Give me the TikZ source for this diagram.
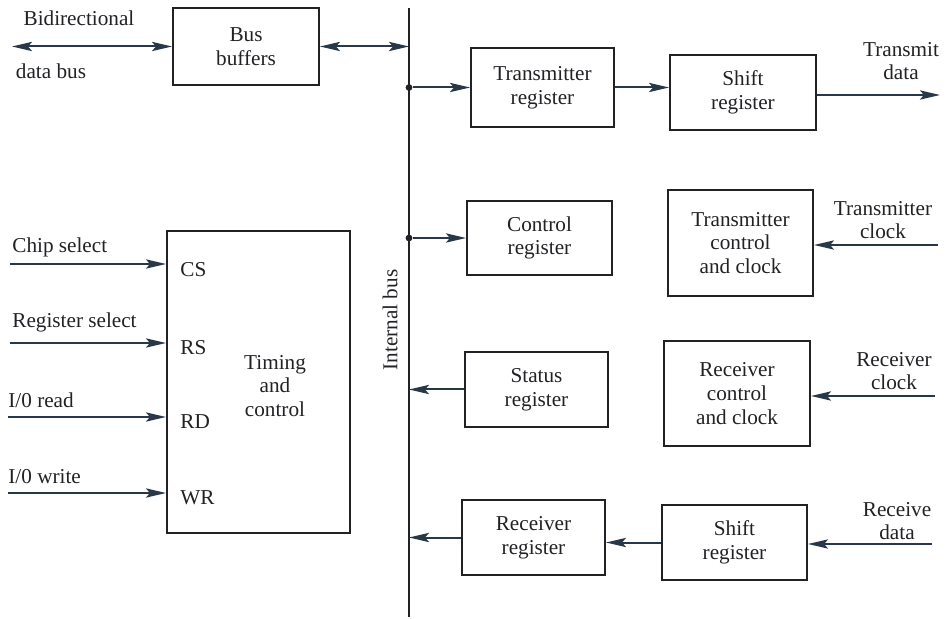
\documentclass[tikz,border=0pt]{standalone}
\usepackage{fontspec}
\setmainfont{Liberation Serif}
\usetikzlibrary{arrows.meta}
\definecolor{ink}{RGB}{34,34,38}
\definecolor{arrowink}{RGB}{40,56,72}
\tikzset{
  box/.style={draw=ink, line width=1pt, rectangle, align=center, inner sep=0pt,
    font=\fontsize{10.6}{11.8}\selectfont, text=ink},
  lbl/.style={align=center, inner sep=0pt, font=\fontsize{10.6}{11.8}\selectfont, text=ink},
  arr/.style={draw=arrowink, line width=1pt, -{Stealth[length=10pt,width=4.6pt,inset=2pt]}},
  darr/.style={draw=arrowink, line width=1pt, {Stealth[length=10pt,width=4.6pt,inset=2pt]}-{Stealth[length=10pt,width=4.6pt,inset=2pt]}},
  busline/.style={draw=ink, line width=1pt},
  jdot/.style={fill=ink, circle, inner sep=0pt, minimum size=3.4pt}
}
\begin{document}
\begin{tikzpicture}[x=0.5pt, y=-0.5pt]
\useasboundingbox[fill=white] (0,0) rectangle (952,619);

% boxes
\node[box, minimum width=73pt, minimum height=38.5pt] (bb) at (246,46.5) {Bus\\buffers};
\node[box, minimum width=71.5pt, minimum height=39.5pt] (tr) at (542.5,87.5) {Transmitter\\register};
\node[box, minimum width=73pt, minimum height=37.5pt] (sr1) at (743,92.5) {Shift\\register};
\node[box, minimum width=72.5pt, minimum height=37pt] (cr) at (539.5,238) {Control\\register};
\node[box, minimum width=72.5pt, minimum height=53pt] (tcc) at (740.5,243) {Transmitter\\control\\and clock};
\node[box, minimum width=71.5pt, minimum height=37.5pt] (ss) at (536.5,389.5) {Status\\register};
\node[box, minimum width=73pt, minimum height=52.5pt] (rcc) at (737,393.5) {Receiver\\control\\and clock};
\node[box, minimum width=71.5pt, minimum height=37.5pt] (rr) at (533.5,537.5) {Receiver\\register};
\node[box, minimum width=72.5pt, minimum height=37.5pt] (sr2) at (734.5,542.5) {Shift\\register};
\node[box, minimum width=91.5pt, minimum height=151pt] (tc) at (258.5,382) {};

% text inside timing box
\node[lbl] (tctext) at (275,386) {Timing\\and\\control};
\node[lbl, anchor=west] (pcs) at (180,270) {CS};
\node[lbl, anchor=west] (prs) at (180,348) {RS};
\node[lbl, anchor=west] (prd) at (180,422) {RD};
\node[lbl, anchor=west] (pwr) at (180,498) {WR};

% internal bus
\coordinate (bustop) at (409,8);
\coordinate (busbot) at (409,617);
\draw[busline] (bustop) -- (busbot);
\node[lbl, rotate=90] (buslbl) at (390,320) {Internal bus};
\node[jdot] (j1) at (bustop |- tr.west) {};
\node[jdot] (j2) at (bustop |- cr.west) {};

% bus buffers connections
\coordinate (bidl) at (12,46.5);
\draw[darr] (bidl) -- (bb.west);
\node[lbl] (bidtxt) at (79,18) {Bidirectional};
\node[lbl] (dbtxt) at (51,71) {data bus};
\draw[darr] (bb.east) -- (bb.east -| bustop);

% bus to registers
\draw[arr] (j1) -- (tr.west);
\draw[arr] (j2) -- (cr.west);
\draw[arr] (ss.west) -- (ss.west -| bustop);
\draw[arr] (rr.west) -- (rr.west -| bustop);

% transmitter chain
\draw[arr] (tr.east) -- (tr.east -| sr1.west);
\coordinate (txout) at (940,95);
\draw[arr] (sr1.east |- txout) -- (txout);
\node[lbl] (txlbl) at (901,61) {Transmit\\data};

\coordinate (txclk) at (938,245);
\draw[arr] (txclk) -- (txclk -| tcc.east);
\node[lbl] (txclklbl) at (883,220) {Transmitter\\clock};

\coordinate (rxclk) at (935,396);
\draw[arr] (rxclk) -- (rxclk -| rcc.east);
\node[lbl] (rxclklbl) at (894,371) {Receiver\\clock};

\coordinate (rxdat) at (932,544);
\draw[arr] (rxdat) -- (rxdat -| sr2.east);
\node[lbl] (rxdatlbl) at (897,521) {Receive\\data};

\draw[arr] (sr2.west) -- (sr2.west -| rr.east);

% left inputs
\coordinate (csin) at (10,264);
\coordinate (rsin) at (10,343);
\coordinate (rdin) at (8,417);
\coordinate (wrin) at (8,493);
\draw[arr] (csin) -- (csin -| tc.west);
\draw[arr] (rsin) -- (rsin -| tc.west);
\draw[arr] (rdin) -- (rdin -| tc.west);
\draw[arr] (wrin) -- (wrin -| tc.west);
\node[lbl, anchor=west] (cslbl) at (12,247) {Chip select};
\node[lbl, anchor=west] (rslbl) at (12,322) {Register select};
\node[lbl, anchor=west] (rdlbl) at (8,400) {I/0 read};
\node[lbl, anchor=west] (wrlbl) at (8,477) {I/0 write};
\end{tikzpicture}
\end{document}
